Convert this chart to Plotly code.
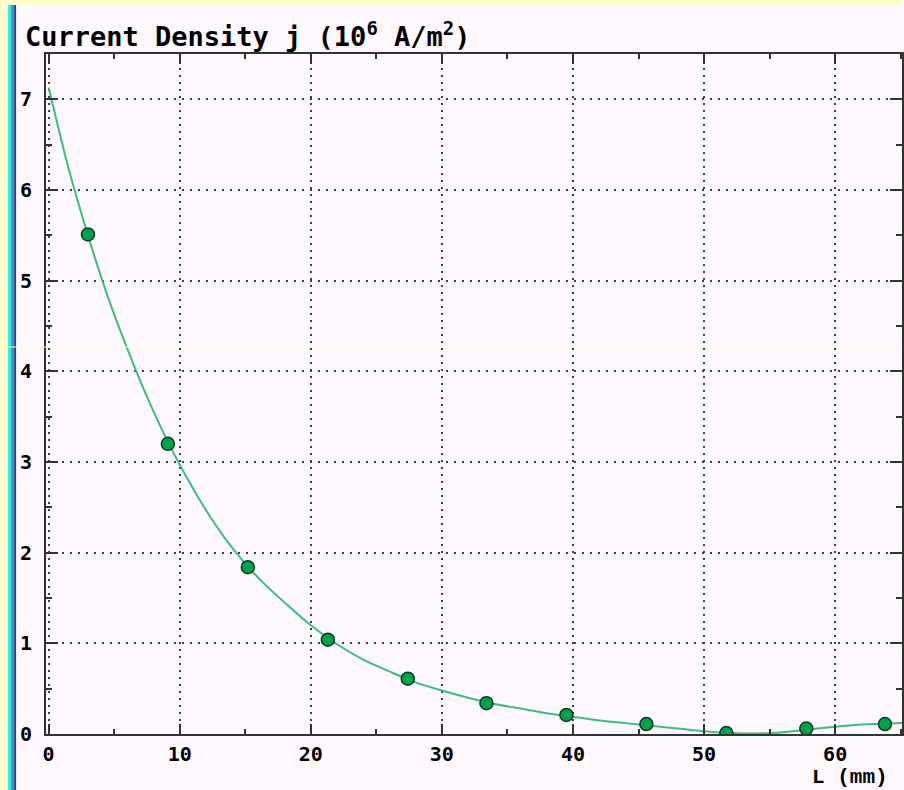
import plotly.graph_objects as go

# Measured current density along the sample
L_mm = [3.0, 9.1, 15.2, 21.3, 27.4, 33.4, 39.5, 45.6, 51.7, 57.8, 63.8]
j_meas = [5.51, 3.20, 1.84, 1.04, 0.61, 0.34, 0.21, 0.11, 0.01, 0.06, 0.11]

# Fitted curve through the measurements
L_fit = [0, 1.5, 3, 4.5, 6, 7.5, 9, 10.5, 12, 13.5, 15, 16.5, 18, 20, 22, 24, 26,
         28, 30, 32, 34, 36, 38, 40, 42, 44, 46, 48, 50, 52, 54, 56, 58, 60, 62,
         64, 65.1]
j_fit = [7.13, 6.25, 5.50, 4.83, 4.25, 3.72, 3.25, 2.84, 2.47, 2.15, 1.88, 1.65,
         1.45, 1.20, 0.99, 0.82, 0.69, 0.57, 0.48, 0.40, 0.33, 0.28, 0.23, 0.19,
         0.15, 0.12, 0.09, 0.06, 0.03, 0.01, 0.005, 0.02, 0.05, 0.08, 0.105,
         0.115, 0.12]

x_ticks = [0, 10, 20, 30, 40, 50, 60]
y_ticks = [0, 1, 2, 3, 4, 5, 6, 7]

W, H = 904, 790
ML, MR, MT, MB = 46, 0, 54, 56
PW, PH = W - ML - MR, H - MT - MB


def px(x):
    return (x - ML) / PW


def py(y):
    return (H - MB - y) / PH


BG = "#FFF8FF"
AXIS = "#333333"
GRID = "#3f3f3f"
MONO = "DejaVu Sans Mono"

fig = go.Figure()
fig.add_trace(go.Scatter(
    x=L_fit, y=j_fit, mode="lines",
    line=dict(color="#3DBE7A", width=2, shape="spline", smoothing=0.8),
    hoverinfo="skip", showlegend=False,
))
fig.add_trace(go.Scatter(
    x=L_mm, y=j_meas, mode="markers",
    marker=dict(size=13, color="#00A04C", line=dict(color="#0B3A1F", width=1.5)),
    showlegend=False,
))

axis_common = dict(
    showline=True, linecolor=AXIS, linewidth=2, mirror="ticks",
    ticks="inside", tickcolor=AXIS, tickwidth=2,
    showgrid=True, gridcolor=GRID, gridwidth=1.6,
    zeroline=False,
    tickfont=dict(family=MONO, size=20, color="#000000", weight="bold"),
)

fig.update_xaxes(
    range=[-0.2, 65.1], tickvals=x_ticks, ticklen=10,
    griddash="2px,5px", ticklabelstandoff=1,
    minor=dict(dtick=5, tick0=0, ticks="inside", ticklen=5, tickwidth=2,
               tickcolor=AXIS, showgrid=False),
    **axis_common,
)
fig.update_yaxes(
    range=[0, 7.5], tickvals=y_ticks, ticklen=12,
    griddash="2px,6px", ticklabelstandoff=8,
    minor=dict(dtick=0.5, tick0=0, ticks="inside", ticklen=6, tickwidth=2,
               tickcolor=AXIS, showgrid=False),
    **axis_common,
)


def band(x0, x1, y0, y1, color):
    return go.layout.Shape(
        type="rect", xref="paper", yref="paper",
        x0=px(x0), x1=px(x1), y0=py(y0), y1=py(y1),
        fillcolor=color, line=dict(width=0), layer="above",
    )


shapes = [
    # pale yellow frame on the top and left
    band(0, W, 0, 5, "#FFFFCC"),
    band(0, 8, 0, H, "#FFFFCC"),
    # coloured edge bars
    band(8, 11, 5, H, "#33E6E6"),
    band(11, 14, 5, H, "#3A9E9E"),
    band(14, 16, 5, H, "#3434C4"),
    # faint horizontal streak
    go.layout.Shape(type="line", xref="paper", yref="paper",
                    x0=px(0), x1=px(W), y0=py(347), y1=py(347),
                    line=dict(color="#FFFFC0", width=1), layer="above"),
]

annotations = [
    dict(text="Current Density j (10<sup>6</sup> A/m<sup>2</sup>)",
         xref="paper", yref="paper", x=px(23), y=py(34),
         xanchor="left", yanchor="middle", showarrow=False,
         font=dict(family=MONO, size=27, color="#000000", weight="bold")),
    dict(text="L (mm)",
         xref="paper", yref="paper", x=px(812), y=py(777),
         xanchor="left", yanchor="middle", showarrow=False,
         font=dict(family="Liberation Mono", size=21, color="#000000",
                   weight="bold")),
]

fig.update_layout(
    width=W, height=H,
    margin=dict(l=ML, r=MR, t=MT, b=MB, pad=0),
    paper_bgcolor=BG, plot_bgcolor=BG,
    shapes=shapes, annotations=annotations,
    showlegend=False,
)

fig.write_html("out.html")
